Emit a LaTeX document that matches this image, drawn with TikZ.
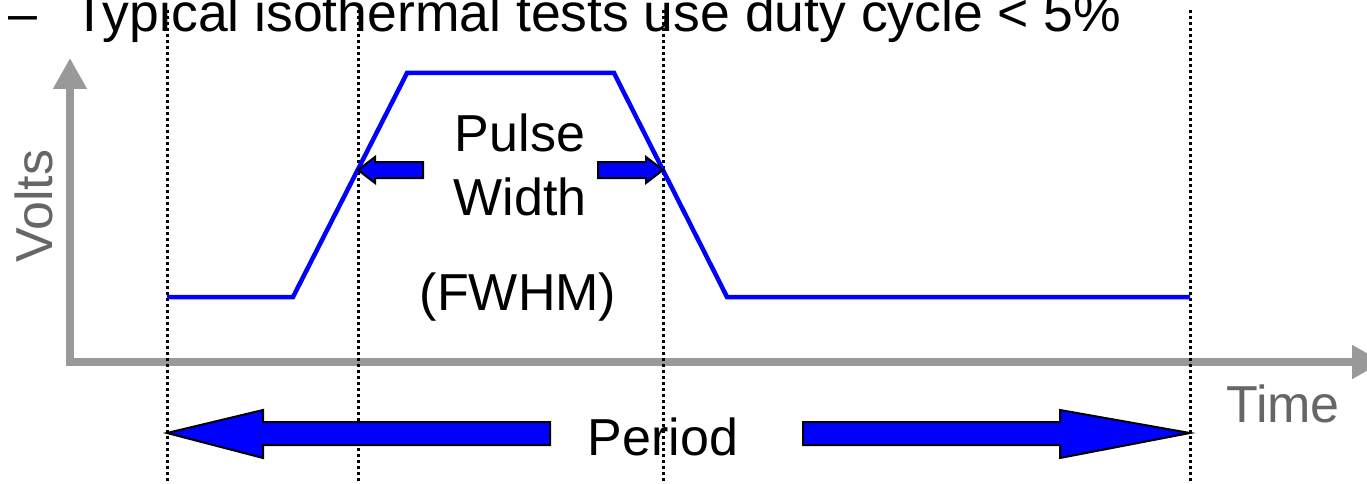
\documentclass[tikz,border=0pt]{standalone}
\usepackage{fontspec}
\setmainfont{Liberation Sans}
\usetikzlibrary{arrows.meta}
\definecolor{axisgray}{HTML}{999999}
\definecolor{labelgray}{HTML}{666666}
\definecolor{pulseblue}{HTML}{0000FF}
\tikzset{
  axisline/.style={draw=axisgray, line width=8pt, -{Triangle[length=31pt,width=32pt]}},
  guide/.style={draw=black, line width=3pt, dash pattern=on 3pt off 3pt},
  pulse/.style={draw=pulseblue, line width=4.5pt, line join=miter},
  blockarrow/.style={fill=pulseblue, draw=black, line width=2pt, line join=miter},
  lbl/.style={font=\fontsize{52}{60}\selectfont, inner sep=0pt},
}
\begin{document}
\begin{tikzpicture}[x=1pt,y=-1pt]
\useasboundingbox (0,0) rectangle (1367,484);
\clip (0,0) rectangle (1367,484);
% top text
\node[lbl, anchor=base west] (dash) at (8,32) {–};
\node[lbl, anchor=base west, font=\fontsize{53.5}{60}\selectfont] (title) at (73,32) {Typical isothermal tests use duty cycle < 5\%};
% axes
\coordinate (origin) at (70,362);
\coordinate (ytip) at (70,58);
\coordinate (xtip) at (1383,362);
\draw[axisline] ([yshift=4pt]origin) -- (ytip);
\draw[axisline] ([xshift=-4pt]origin) -- (xtip);
\node[lbl, text=labelgray, rotate=90] (volts) at (34,206) {Volts};
\node[lbl, text=labelgray] (time) at (1283,404) {Time};
% dotted guides
\foreach \x in {167,358,663,1190} {
  \draw[guide] (\x,10) -- (\x,484);
}
% pulse
\draw[pulse] (167,297) -- (293,297) -- (407,73) -- (614,73) -- (727,297) -- (1190,297);
% pulse width arrows
\draw[blockarrow] (358,170) -- (375,157) -- (375,162) -- (423,162) -- (423,178) -- (375,178) -- (375,183) -- cycle;
\draw[blockarrow] (663,170) -- (646,157) -- (646,162) -- (598,162) -- (598,178) -- (646,178) -- (646,183) -- cycle;
% period arrows
\draw[blockarrow] (167,433) -- (263,410) -- (263,422) -- (550,422) -- (550,445) -- (263,445) -- (263,458) -- cycle;
\draw[blockarrow] (1190,433) -- (1060,410) -- (1060,422) -- (803,422) -- (803,445) -- (1060,445) -- (1060,458) -- cycle;
% labels
\node[lbl] (pulsetxt) at (520,133) {Pulse};
\node[lbl] (widthtxt) at (520,197) {Width};
\node[lbl] (fwhm) at (518,297) {(FWHM)};
\node[lbl] (period) at (663,437) {Period};
\end{tikzpicture}
\end{document}
